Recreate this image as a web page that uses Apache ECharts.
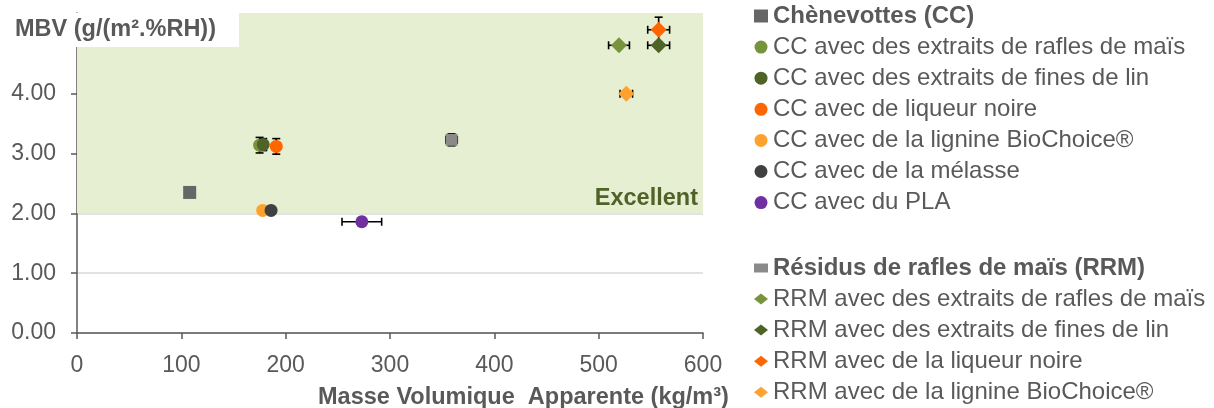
<!DOCTYPE html>
<html>
<head>
<meta charset="utf-8">
<script src="https://cdn.jsdelivr.net/npm/echarts@6/dist/echarts.min.js"></script>
<style>html,body{margin:0;padding:0;background:#fff}#c{width:1214px;height:408px}</style>
</head>
<body>
<div id="c"></div>
<script>
// ---- data ----
const ccNames = ['Chènevottes (CC)', 'CC avec des extraits de rafles de maïs', 'CC avec des extraits de fines de lin', 'CC avec de liqueur noire', 'CC avec de la lignine BioChoice®', 'CC avec de la mélasse', 'CC avec du PLA'];
const ccX    = [108, 175, 178.5, 191, 178, 186, 273];
const ccY    = [2.35, 3.14, 3.15, 3.12, 2.05, 2.05, 1.86];
const ccErrX = [0, 0, 0, 0, 0, 0, 19];
const ccErrY = [0, 0.13, 0.1, 0.13, 0, 0, 0.07];

const rrmNames = ['Résidus de rafles de maïs (RRM)', 'RRM avec des extraits de rafles de maïs', 'RRM avec des extraits de fines de lin', 'RRM avec de la liqueur noire', 'RRM avec de la lignine BioChoice®'];
const rrmX    = [359, 519.5, 557.5, 557.5, 526.5];
const rrmY    = [3.23, 4.81, 4.81, 5.07, 4.00];
const rrmErrX = [5.5, 10, 10.5, 10.5, 6];
const rrmErrY = [0.1, 0.05, 0.05, 0.21, 0];

const xTicks = [0, 100, 200, 300, 400, 500, 600];
const yTicks = [0, 1, 2, 3, 4, 5];
const excellentMin = 2;
const yTop = 5.35;

// ---- styles ----
const ccColors  = ['#666666', '#77933c', '#4f6228', '#ff6600', '#ffa12e', '#404040', '#7030a0'];
const ccSymbols = ['rect', 'circle', 'circle', 'circle', 'circle', 'circle', 'circle'];
const rrmColors = ['#8a8a8a', '#77933c', '#4f6228', '#ff6600', '#ffa12e'];
const rrmSymbols = ['rect', 'diamond', 'diamond', 'diamond', 'diamond'];
const FONT = "'Liberation Sans', Arial, sans-serif";
const GREY = '#595959';

const series = [];
// Excellent zone
series.push({
  type: 'scatter', name: '__zone', data: [], z: -1, silent: true,
  markArea: {
    silent: true,
    itemStyle: { color: '#e6efd2' },
    label: { show: true, position: 'insideBottomRight', distance: 5, offset: [0, 2], formatter: 'Excellent',
             color: '#4f6228', fontWeight: 'bold', fontSize: 23.5, fontFamily: FONT },
    data: [[{ xAxis: 0, yAxis: excellentMin }, { xAxis: 600, yAxis: yTop }]]
  }
});
// error bars
const errData = [];
ccX.forEach((x, i) => errData.push([x, ccY[i], ccErrX[i], ccErrY[i]]));
rrmX.forEach((x, i) => errData.push([x, rrmY[i], rrmErrX[i], rrmErrY[i]]));
series.push({
  type: 'custom', name: '__err', z: 1, silent: true,
  data: errData, encode: { x: 0, y: 1 },
  renderItem: function (params, api) {
    const x = api.value(0), y = api.value(1), ex = api.value(2), ey = api.value(3);
    const cap = 4;
    const st = { stroke: '#000', lineWidth: 1.6 };
    const ch = [];
    if (ex > 0) {
      const l = api.coord([x - ex, y]), r = api.coord([x + ex, y]);
      ch.push({ type: 'line', shape: { x1: l[0], y1: l[1], x2: r[0], y2: r[1] }, style: st });
      ch.push({ type: 'line', shape: { x1: l[0], y1: l[1] - cap, x2: l[0], y2: l[1] + cap }, style: st });
      ch.push({ type: 'line', shape: { x1: r[0], y1: r[1] - cap, x2: r[0], y2: r[1] + cap }, style: st });
    }
    if (ey > 0) {
      const t = api.coord([x, y + ey]), b = api.coord([x, y - ey]);
      ch.push({ type: 'line', shape: { x1: t[0], y1: t[1], x2: b[0], y2: b[1] }, style: st });
      ch.push({ type: 'line', shape: { x1: t[0] - cap, y1: t[1], x2: t[0] + cap, y2: t[1] }, style: st });
      ch.push({ type: 'line', shape: { x1: b[0] - cap, y1: b[1], x2: b[0] + cap, y2: b[1] }, style: st });
    }
    return { type: 'group', children: ch };
  }
});
ccNames.forEach((n, i) => series.push({
  type: 'scatter', name: n, z: 2, symbol: ccSymbols[i], symbolSize: 13, symbolKeepAspect: true,
  itemStyle: { color: ccColors[i], opacity: 1 },
  data: [[ccX[i], ccY[i]]]
}));
rrmNames.forEach((n, i) => series.push({
  type: 'scatter', name: n, z: 2, symbol: rrmSymbols[i], symbolSize: i === 0 ? 12 : 16, symbolKeepAspect: true,
  itemStyle: { color: rrmColors[i], opacity: 1 },
  data: [[rrmX[i], rrmY[i]]]
}));

const legendText = { fontSize: 24, lineHeight: 24, color: GREY, fontFamily: FONT };
const splitColors = yTicks.map(() => '#d9d9d9').concat(['rgba(0,0,0,0)']);

const option = {
  animation: false,
  textStyle: { fontFamily: FONT },
  grid: { left: 77, right: 511, top: 13, bottom: 75 },
  title: [
    { text: 'MBV (g/(m².%RH))', left: 0, top: 13, backgroundColor: '#fff',
      padding: [5, 23, 5, 15],
      textStyle: { fontSize: 23.5, lineHeight: 24, fontWeight: 'bold', color: GREY, fontFamily: FONT } },
    { text: 'Masse Volumique  Apparente (kg/m³)', left: 318, top: 386, padding: 0,
      textStyle: { fontSize: 23.5, lineHeight: 24, fontWeight: 'bold', color: GREY, fontFamily: FONT } }
  ],
  legend: [
    { orient: 'vertical', left: 754, top: 4, padding: 0, itemGap: 7.1, itemWidth: 14, itemHeight: 13,
      textStyle: legendText, selectedMode: false,
      data: ccNames.map((n, i) => i === 0 ? { name: n, textStyle: { fontWeight: 'bold' } } : { name: n }) },
    { orient: 'vertical', left: 754, top: 256, padding: 0, itemGap: 7, itemWidth: 14, itemHeight: 9,
      textStyle: legendText, selectedMode: false,
      data: [{ name: rrmNames[0], textStyle: { fontWeight: 'bold' } }] },
    { orient: 'vertical', left: 754, top: 287, padding: 0, itemGap: 7.1, itemWidth: 14, itemHeight: 11,
      textStyle: legendText, selectedMode: false,
      data: rrmNames.slice(1) }
  ],
  xAxis: {
    type: 'value', min: xTicks[0], max: xTicks[xTicks.length - 1], interval: 100,
    axisLine: { lineStyle: { color: GREY, width: 1.5 } },
    axisTick: { show: true, length: 6, lineStyle: { color: GREY, width: 1.5 } },
    axisLabel: { fontSize: 23, color: GREY, margin: 21, fontFamily: FONT },
    splitLine: { show: false }
  },
  yAxis: {
    type: 'value', min: 0, max: yTop, interval: 1,
    axisLine: { show: true, lineStyle: { color: GREY, width: 1.5 } },
    axisTick: { show: true, length: 6, lineStyle: { color: GREY, width: 1.5 } },
    axisLabel: { fontSize: 23, color: GREY, margin: 21, fontFamily: FONT, showMaxLabel: false,
      formatter: v => (yTicks.indexOf(Math.round(v * 100) / 100) >= 0 ? v.toFixed(2) : '') },
    splitLine: { show: true, lineStyle: { color: splitColors, width: 1.5 } }
  },
  series: series
};
echarts.init(document.getElementById('c'), null, { renderer: 'canvas' }).setOption(option);
</script>
</body>
</html>
